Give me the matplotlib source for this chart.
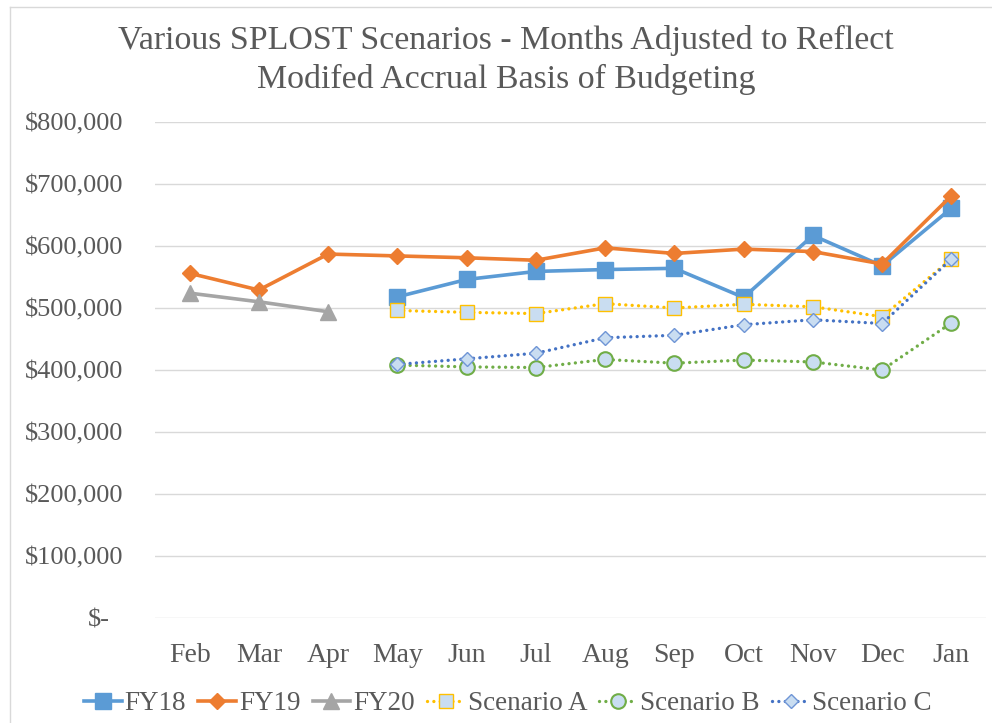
import numpy as np
import matplotlib
matplotlib.use("Agg")
import matplotlib.pyplot as plt
from matplotlib.lines import Line2D
import matplotlib.transforms as mtransforms

months = ["Feb", "Mar", "Apr", "May", "Jun", "Jul", "Aug", "Sep", "Oct", "Nov", "Dec", "Jan"]
nan = np.nan
fy18 = [nan, nan, nan, 518000, 546000, 559000, 562000, 564000, 517000, 617000, 568000, 661000]
fy19 = [556000, 529000, 587000, 584000, 581000, 577000, 597000, 588000, 595000, 591000, 571000, 681000]
fy20 = [524000, 510000, 494000, nan, nan, nan, nan, nan, nan, nan, nan, nan]
scen_a = [nan, nan, nan, 496000, 493000, 491000, 507000, 500000, 506000, 502000, 486000, 579000]
scen_b = [nan, nan, nan, 408000, 405000, 404000, 417000, 411000, 416000, 413000, 400000, 476000]
scen_c = [nan, nan, nan, 409000, 418000, 427000, 452000, 456000, 473000, 481000, 475000, 579000]
yticks = [0, 100000, 200000, 300000, 400000, 500000, 600000, 700000, 800000]
ytick_labels = ["$-", "$100,000", "$200,000", "$300,000", "$400,000", "$500,000",
                "$600,000", "$700,000", "$800,000"]
title = "Various SPLOST Scenarios - Months Adjusted to Reflect\nModifed Accrual Basis of Budgeting"

plt.rcParams['font.family'] = ['Liberation Serif', 'DejaVu Serif']
TXT = "#595959"

fig = plt.figure(figsize=(9.92, 7.23), dpi=100)
ax = fig.add_axes([155/992, 1-618/723, (986-155)/992, (618-122)/723])

x = np.arange(len(months))
fill = "#C9DDF1"
dot = (0, (0.01, 1.9))

ax.plot(x, fy18, color="#5B9BD5", lw=2.6, marker="s", ms=12, mfc="#5B9BD5", mec="#5B9BD5",
        label="FY18", zorder=3, solid_joinstyle="round")
ax.plot(x, fy19, color="#ED7D31", lw=2.6, marker="D", ms=8.5, mfc="#ED7D31", mec="#ED7D31",
        label="FY19", zorder=4, solid_joinstyle="round")
ax.plot(x, fy20, color="#A5A5A5", lw=2.6, marker="^", ms=12, mfc="#A5A5A5", mec="#A5A5A5",
        label="FY20", zorder=5, solid_joinstyle="round")
ax.plot(x, scen_a, color="#FFC000", lw=2.4, ls=dot, dash_capstyle="round", marker="s", ms=10.5,
        mfc=fill, mec="#FFC000", mew=1, label="Scenario A", zorder=6)
ax.plot(x, scen_b, color="#70AD47", lw=2.4, ls=dot, dash_capstyle="round", marker="o", ms=10.5,
        mfc=fill, mec="#70AD47", mew=1.5, label="Scenario B", zorder=7)
ax.plot(x, scen_c, color="#4472C4", lw=2.4, ls=dot, dash_capstyle="round", marker="D", ms=7.5,
        mfc=fill, mec="#6F95D6", mew=1, label="Scenario C", zorder=8)

ax.set_xlim(-0.5, len(months) - 0.5)
ax.set_ylim(0, 800000)
ax.set_yticks(yticks)
ax.set_yticklabels(ytick_labels)
ax.set_xticks(x)
ax.set_xticklabels(months)
ax.tick_params(axis="both", length=0, labelcolor=TXT)
ax.tick_params(axis="y", pad=23, labelsize=19)
ax.tick_params(axis="x", pad=18, labelsize=20)
for s in ax.spines.values():
    s.set_visible(False)
ax.grid(axis="y", color="#D9D9D9", lw=1)
ax.set_axisbelow(True)

# accounting-style offset for "$-"
lab0 = ax.get_yticklabels()[0]
lab0.set_transform(lab0.get_transform() + mtransforms.ScaledTranslation(-13/100, 0, fig.dpi_scale_trans))

fig.text(506/992, 1-60/723, title, ha="center", va="center", fontsize=24.4, color=TXT,
         linespacing=1.33)

leg = fig.legend(loc="center", bbox_to_anchor=(508/992, 1-704/723), ncol=6, frameon=False,
                 fontsize=19.5, handlelength=1.4, handletextpad=0.1, columnspacing=0.45,
                 labelcolor=TXT, borderaxespad=0)

# chart-area border
fig.add_artist(Line2D([10/992, 10/992], [0, 1-7/723], transform=fig.transFigure, color="#D9D9D9", lw=1))
fig.add_artist(Line2D([10/992, 1], [1-7/723, 1-7/723], transform=fig.transFigure, color="#D9D9D9", lw=1))

fig.savefig("out.png", dpi=100)
